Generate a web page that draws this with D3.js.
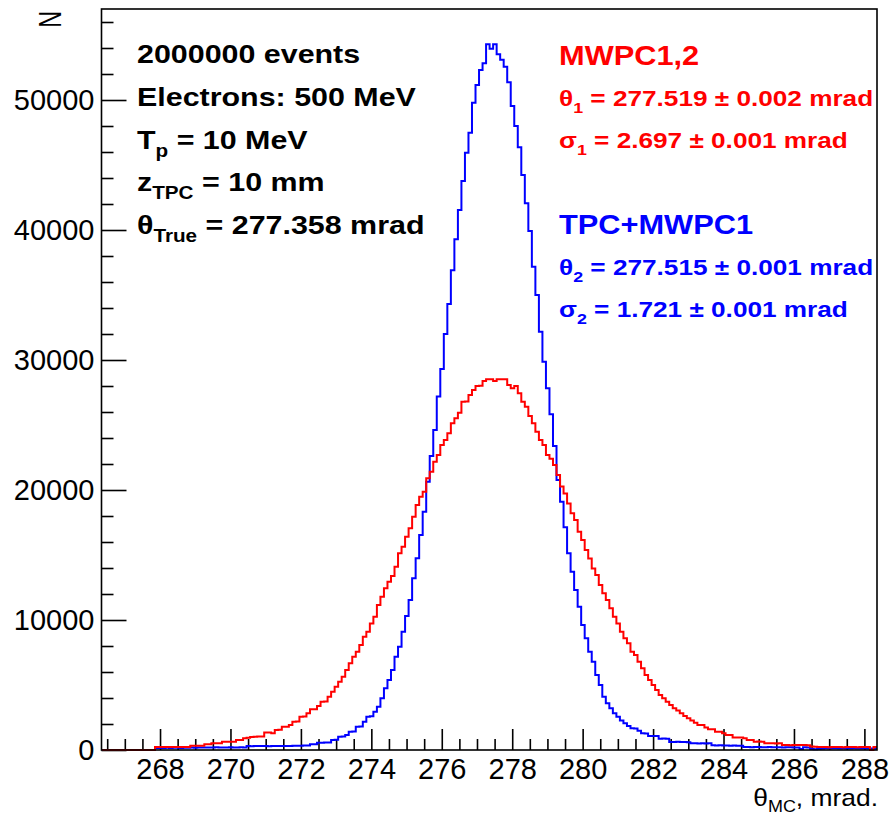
<!DOCTYPE html>
<html><head><meta charset="utf-8">
<script src="https://cdn.jsdelivr.net/npm/d3@7/dist/d3.min.js"></script>
<style>
body{margin:0;background:#fff}
svg{display:block}
text{font-family:"Liberation Sans",Arial,Helvetica,sans-serif}
</style>
</head><body>
<svg id="chart" width="892" height="820"></svg>
<script>
// ---------------- data ----------------
const histLow = 266.358;   // theta_True - 11 mrad
const histHigh = 288.358;  // theta_True + 11 mrad
const binWidth = 0.1;      // mrad
const yMax = 57000;
const xTickValues = [268, 270, 272, 274, 276, 278, 280, 282, 284, 286, 288];
const yTickValues = [0, 10000, 20000, 30000, 40000, 50000];

// MWPC1,2 (red) counts per bin
const redCounts = [
  0,0,0,0,0,0,0,0,0,0,
  0,0,0,0,0,230,230,230,230,230,
  230,230,230,230,230,330,330,330,330,440,
  440,510,510,510,640,640,640,640,770,770,
  900,950,1000,1020,1030,1040,1350,1340,1280,1540,
  1550,1790,1790,1920,2180,2190,2560,2570,2820,3130,
  3130,3380,3720,3730,4100,4490,4870,5250,5640,6150,
  6670,7180,7560,8080,8720,9100,9740,10250,11150,11790,
  12440,12950,13380,14100,15130,15640,16410,17050,17950,18850,
  19490,19870,20900,21410,22180,22690,23460,23850,24360,25130,
  25510,25950,26790,26800,27310,27690,28000,28010,28380,28510,
  28510,28380,28510,28510,28510,28080,27820,28000,27440,26790,
  26410,25700,25130,24490,23850,23460,22690,22400,21920,21150,
  20260,19740,18970,18210,17690,16790,16150,15380,14740,13970,
  13460,12690,12050,11540,10900,10250,9740,9100,8590,8210,
  7560,7310,6790,6280,5770,5380,5000,4620,4230,3980,
  3720,3460,3210,3030,2820,2620,2440,2260,2100,1920,
  1930,1740,1590,1590,1410,1410,1280,1150,1150,970,
  970,960,900,770,770,640,650,640,520,510,
  510,500,510,380,380,370,380,390,380,380,
  370,260,250,230,240,230,220,240,230,230,
  220,240,230,230,220,230,240,230,0,230
];

// TPC+MWPC1 (blue) counts per bin
const blueCounts = [
  0,0,0,0,0,0,0,0,0,0,
  0,0,0,0,0,150,160,150,170,160,
  170,180,160,170,180,190,180,200,190,200,
  190,200,210,190,200,200,210,200,190,210,
  200,300,290,310,300,300,310,290,300,310,
  300,300,310,310,320,330,320,340,350,440,
  450,560,560,570,580,770,780,1020,1030,1150,
  1410,1420,1790,1800,2180,2560,2600,2950,3330,3980,
  4750,5380,6150,7180,7950,9100,10300,11540,13210,14750,
  16540,18330,20640,22620,24620,27200,29300,32000,34300,36900,
  39280,41540,43770,45950,47490,49790,51150,52300,52820,54280,
  53950,54280,53520,53100,52560,51360,49540,48000,46360,44230,
  42050,39920,37180,35000,32180,29870,27820,25820,23380,20770,
  19100,17130,15130,13720,12310,11020,9620,8590,7560,6790,
  5770,5000,4100,3590,3210,2820,2560,2260,2050,1850,
  1670,1660,1490,1280,1270,1080,1070,1080,870,880,
  860,620,620,630,610,620,600,510,520,500,
  510,500,510,360,350,360,340,350,330,340,
  330,330,230,240,220,230,230,220,210,230,
  220,220,210,200,220,210,200,200,70,210,
  200,80,60,70,90,130,120,140,130,120,
  130,110,120,130,120,110,120,110,120,100
];

const infoLines = [
  [["2000000 events"]],
  [["Electrons: 500 MeV"]],
  [["T"], ["p", 1], [" = 10 MeV"]],
  [["z"], ["TPC", 1], [" = 10 mm"]],
  [["\u03b8"], ["True", 1], [" = 277.358 mrad"]]
];
const redTitle = "MWPC1,2";
const redLines = [
  [["\u03b8"], ["1", 1], [" = 277.519 \u00b1 0.002 mrad"]],
  [["\u03c3"], ["1", 1], [" = 2.697 \u00b1 0.001 mrad"]]
];
const blueTitle = "TPC+MWPC1";
const blueLines = [
  [["\u03b8"], ["2", 1], [" = 277.515 \u00b1 0.001 mrad"]],
  [["\u03c3"], ["2", 1], [" = 1.721 \u00b1 0.001 mrad"]]
];
const xTitle = [["\u03b8"], ["MC", 1], [", mrad."]];
const yTitle = "N";

// ---------------- layout ----------------
const svg = d3.select("#chart");
const frame = {left: 102.2, right: 877, top: 9, bottom: 750};
const x = d3.scaleLinear().domain([histLow, histHigh]).range([frame.left, frame.right]);
const y = d3.scaleLinear().domain([0, yMax]).range([frame.bottom, frame.top]);

svg.append("rect").attr("width", 892).attr("height", 820).attr("fill", "#fff");

// minor ticks
const xMinor = d3.range(266.5, 288.4, 0.5).filter(v => Math.abs(v / 2 - Math.round(v / 2)) > 1e-6);
const yMinor = d3.range(0, yMax, 2000).filter(v => v % 10000 !== 0);

const gx = svg.append("g").attr("transform", `translate(0,${frame.bottom})`);
gx.call(d3.axisBottom(x).tickValues(xTickValues).tickSize(-21).tickPadding(8).tickFormat(d3.format("d")));
const gxm = svg.append("g").attr("transform", `translate(0,${frame.bottom})`);
gxm.call(d3.axisBottom(x).tickValues(xMinor).tickSize(-11).tickFormat(""));

const gy = svg.append("g").attr("transform", `translate(${frame.left - 0.7},0)`);
gy.call(d3.axisLeft(y).tickValues(yTickValues).tickSize(-25).tickPadding(7).tickFormat(d3.format("d")));
const gym = svg.append("g").attr("transform", `translate(${frame.left - 0.7},0)`);
gym.call(d3.axisLeft(y).tickValues(yMinor).tickSize(-12).tickFormat(""));

svg.selectAll(".domain").remove();
svg.selectAll(".tick line").attr("stroke", "#000").attr("stroke-width", 1.6);
svg.selectAll(".tick text").attr("font-size", 29).attr("fill", "#000")
   .style("font-family", '"Liberation Sans",Arial,Helvetica,sans-serif');

// histograms
function histPoints(counts) {
  const pts = [];
  counts.forEach((c, i) => {
    const lo = histLow + i * binWidth;
    pts.push([lo, c], [lo + binWidth, c]);
  });
  return pts;
}
const line = d3.line().x(d => x(d[0])).y(d => y(d[1]));
svg.append("path").attr("d", line(histPoints(blueCounts)))
   .attr("fill", "none").attr("stroke", "#0000ff").attr("stroke-width", 2);
svg.append("path").attr("d", line(histPoints(redCounts)))
   .attr("fill", "none").attr("stroke", "#ff0000").attr("stroke-width", 2);

// frame
svg.append("rect")
   .attr("x", frame.left - 0.7).attr("y", frame.top)
   .attr("width", frame.right - frame.left + 0.7).attr("height", frame.bottom - frame.top)
   .attr("fill", "none").attr("stroke", "#000").attr("stroke-width", 1.6);

// rich text helper
function richText(parent, segs, px, py, size, opts) {
  const o = Object.assign({bold: true, fill: "#000", stretch: 1.14, anchor: "start", subShift: 0.3}, opts || {});
  const g = parent.append("g").attr("transform", `translate(${px},${py}) scale(${o.stretch},1)`);
  const t = g.append("text").attr("x", 0).attr("y", 0)
    .attr("font-size", size).attr("font-weight", o.bold ? "bold" : "normal")
    .attr("fill", o.fill).attr("text-anchor", o.anchor)
    .style("white-space", "pre").attr("xml:space", "preserve");
  let shift = 0;
  segs.forEach(s => {
    const sub = !!s[1];
    const target = sub ? Math.round(size * o.subShift) : 0;
    const ts = t.append("tspan").text(s[0]).attr("dy", target - shift);
    if (sub) ts.attr("font-size", size * 0.68);
    shift = target;
  });
  return t;
}

const info = svg.append("g");
const infoBase = [63, 106, 148.5, 191, 233.5];
infoLines.forEach((segs, i) => richText(info, segs, 137, infoBase[i], 26, {stretch: 1.17}));

richText(svg, [[redTitle]], 559, 65, 27, {fill: "#ff0000"});
redLines.forEach((segs, i) => richText(svg, segs, 559, [106, 148][i], 22, {fill: "#ff0000", stretch: 1.19}));
richText(svg, [[blueTitle]], 559, 234, 27, {fill: "#0000ff"});
blueLines.forEach((segs, i) => richText(svg, segs, 559, [275, 317][i], 22, {fill: "#0000ff", stretch: 1.19}));

// axis titles
richText(svg, xTitle, 878, 806, 24, {bold: false, stretch: 1.1, anchor: "end", subShift: 0.25});
svg.append("g").attr("transform", "translate(61,11) rotate(-90) scale(0.75,1)")
   .append("text").attr("text-anchor", "end").attr("font-size", 31).attr("fill", "#000")
   .text(yTitle);
</script>
</body></html>
